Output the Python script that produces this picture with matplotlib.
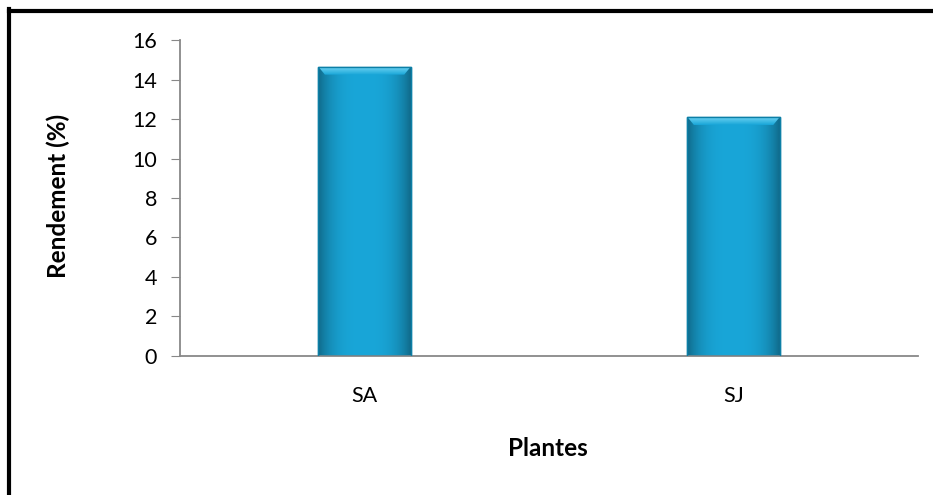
import numpy as np
import matplotlib
matplotlib.use("Agg")
import matplotlib.pyplot as plt
from matplotlib.lines import Line2D

plt.rcParams['font.family'] = ['Lato', 'DejaVu Sans']

plantes = ["SA", "SJ"]
rendement = [14.65, 12.1]
yticks = [0, 2, 4, 6, 8, 10, 12, 14, 16]

fig = plt.figure(figsize=(9.33, 4.95), dpi=100)
ax = fig.add_axes([0.193, 0.281, 0.791, 0.638])

x = np.arange(len(plantes))
bars = ax.bar(x, rendement, width=0.25, color="#19a6d8", edgecolor="#0d7fa6", linewidth=1.0, zorder=2)

# shaded fill + bevel for each bar
grad = np.linspace(0, 1, 64)
shade = 1 - 0.35 * (np.abs(grad - 0.5) * 2) ** 3
base = np.array([0x19, 0xa6, 0xd8]) / 255.0
img = (base[None, None, :] * shade[None, :, None]).repeat(4, axis=0)
top_grad = np.linspace(1, 0, 16)
light = np.array([0x6c, 0xd2, 0xf2]) / 255.0
top_img = (light[None, None, :] * top_grad[:, None, None] + base[None, None, :] * (1 - top_grad[:, None, None])).repeat(4, axis=1)
for b in bars:
    x0, w, h = b.get_x(), b.get_width(), b.get_height()
    im = ax.imshow(img, extent=[x0, x0 + w, 0, h], aspect="auto", zorder=2.5, interpolation="bilinear")
    im.set_clip_path(b)
    # lighter bevel along the top
    bev = ax.fill([x0, x0 + w, x0 + w * 0.93, x0 + w * 0.07], [h, h, h - 0.4, h - 0.4], color="none", lw=0)[0]
    tim = ax.imshow(top_img, extent=[x0, x0 + w, h - 0.4, h], aspect="auto", zorder=3, interpolation="bilinear")
    tim.set_clip_path(bev)
    ax.plot([x0, x0 + w, x0 + w, x0, x0], [0, 0, h, h, 0], color="#0d7fa6", lw=1.0, zorder=3.5)

ax.set_xlim(-0.5, 1.5)
ax.set_ylim(0, 16)
ax.set_yticks(yticks)
ax.set_xticks(x)
ax.set_xticklabels(plantes)
ax.tick_params(axis="y", direction="out", length=6.5, color="#888888", labelsize=15.5, pad=10)
ax.tick_params(axis="x", length=0, labelsize=15.5, pad=22)
for s in ["top", "right"]:
    ax.spines[s].set_visible(False)
for s in ["left", "bottom"]:
    ax.spines[s].set_color("#888888")
    ax.spines[s].set_linewidth(1.3)

ax.set_ylabel("Rendement (%)", fontsize=17.5, fontweight="bold")
ax.yaxis.set_label_coords(-0.149, 0.505)
ax.set_xlabel("Plantes", fontsize=17.5, fontweight="bold")
ax.xaxis.set_label_coords(0.499, -0.258)

# frame around the figure (top and left sides)
fig.add_artist(Line2D([8.5 / 933, 1], [1 - 10.5 / 495, 1 - 10.5 / 495], color="black", lw=3.0, transform=fig.transFigure))
fig.add_artist(Line2D([8.5 / 933, 8.5 / 933], [0, 1 - 9 / 495], color="black", lw=3.0, transform=fig.transFigure))

fig.savefig("out.png", dpi=100)
